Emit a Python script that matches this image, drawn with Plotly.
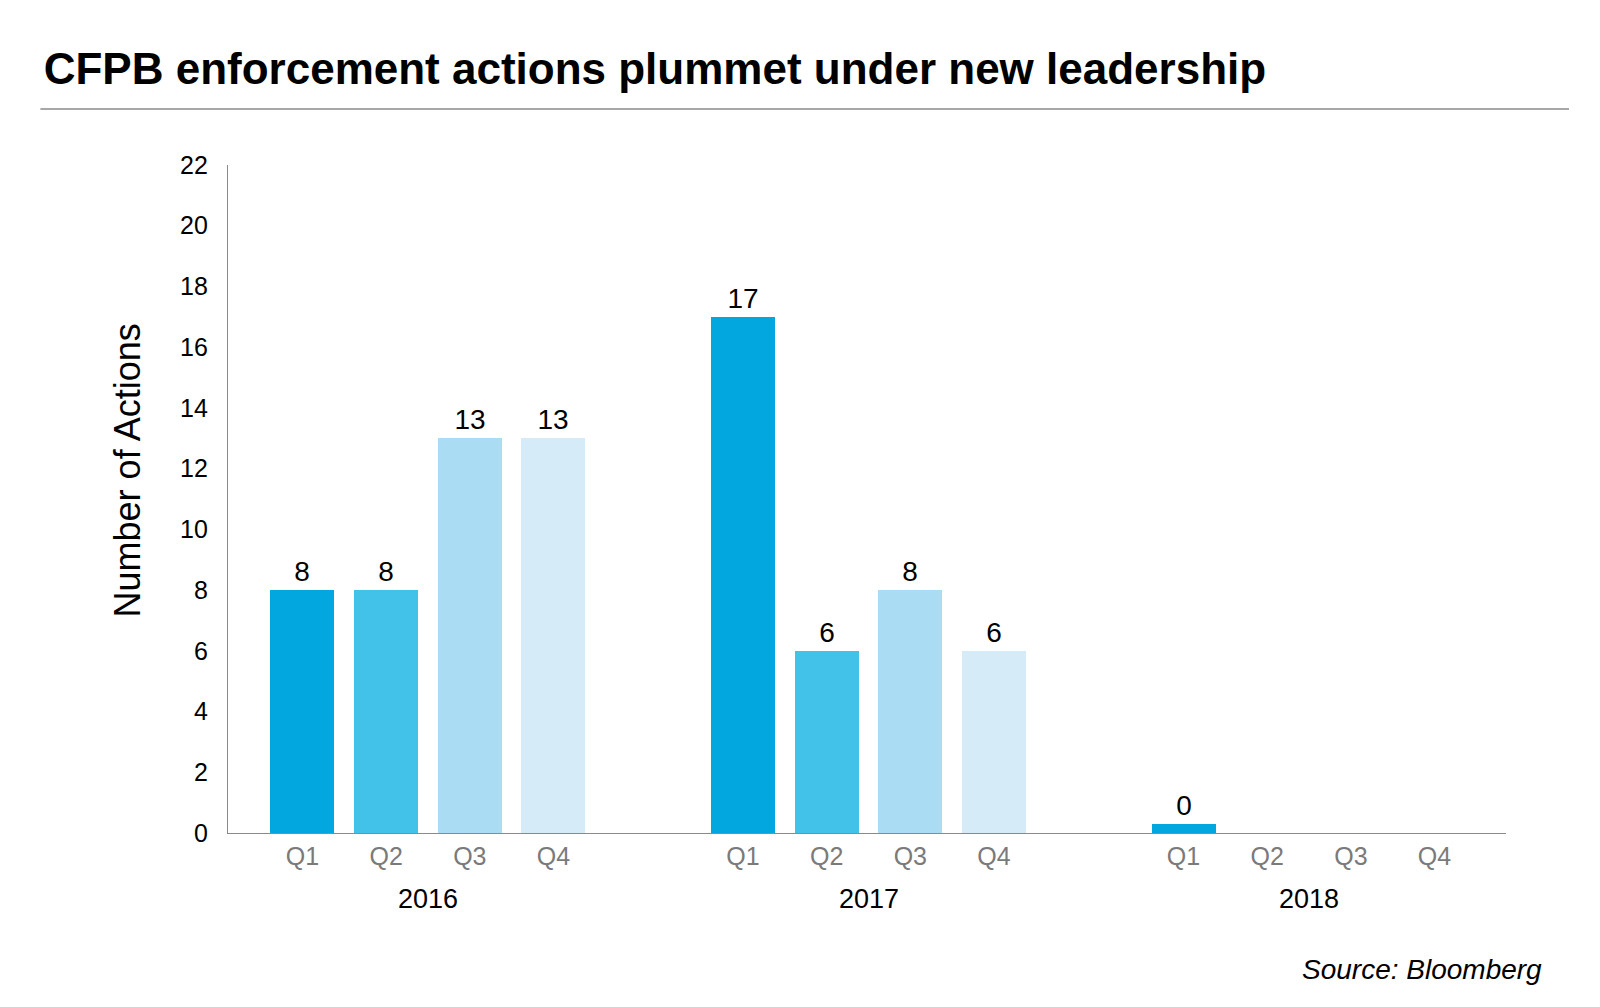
import plotly.graph_objects as go

years = ["2016", "2017", "2018"]
quarters = ["Q1", "Q2", "Q3", "Q4"]
actions = [
    [8, 8, 13, 13],
    [17, 6, 8, 6],
    [0, None, None, None],
]
quarter_colors = ["#02A7DF", "#43C2E9", "#AADDF3", "#D5ECF8"]
y_ticks = list(range(0, 23, 2))

GROUP_STEP = 5.265   # spacing between year groups, in quarter units
ZERO_STUB = 0.3      # visual stub drawn for zero-valued bars

xs, ys, texts, colors, tickvals, ticktext = [], [], [], [], [], []
for g, yr in enumerate(years):
    for q, qn in enumerate(quarters):
        pos = g * GROUP_STEP + q
        tickvals.append(pos)
        ticktext.append(qn)
        v = actions[g][q]
        if v is None:
            continue
        xs.append(pos)
        ys.append(v if v > 0 else ZERO_STUB)
        texts.append(str(v))
        colors.append(quarter_colors[q])

FONT = "Liberation Sans, Arial, sans-serif"

fig = go.Figure()
fig.add_trace(go.Bar(
    x=xs, y=ys, text=texts, textposition="outside",
    marker=dict(color=colors, line=dict(width=0)),
    width=0.765,
    textfont=dict(family=FONT, size=28, color="#000"),
    cliponaxis=False, hoverinfo="skip",
))

annotations = []
for g, yr in enumerate(years):
    annotations.append(dict(
        x=g * GROUP_STEP + 1.5, xref="x", y=-0.0988, yref="paper",
        text=yr, showarrow=False, xanchor="center", yanchor="middle",
        font=dict(family=FONT, size=27, color="#000"),
    ))
annotations.append(dict(
    x=-0.0787, xref="paper", y=0.5434, yref="paper", text="Number of Actions",
    textangle=-90, showarrow=False, xanchor="center", yanchor="middle",
    font=dict(family=FONT, size=36, color="#000"),
))
annotations.append(dict(
    x=1.0300, xref="paper", y=-0.2036, yref="paper", text="<i>Source: Bloomberg</i>",
    showarrow=False, xanchor="right", yanchor="middle",
    font=dict(family=FONT, size=28, color="#000"),
))

fig.update_layout(
    width=1600, height=1007,
    margin=dict(l=220, r=102, t=157, b=182, pad=0),
    paper_bgcolor="white", plot_bgcolor="white",
    showlegend=False,
    title=dict(
        text="<b>CFPB enforcement actions plummet under new leadership</b>",
        x=35.7 / 1600, xref="container", xanchor="left",
        y=1 - 61 / 1007, yref="container", yanchor="middle",
        font=dict(family=FONT, size=44, color="#000"),
    ),
    xaxis=dict(
        range=[-0.89, 2 * GROUP_STEP + 3 + 0.854],
        tickvals=tickvals, ticktext=ticktext,
        showgrid=False, zeroline=False,
        showline=True, linecolor="#8a8a8a", linewidth=1.3,
        ticks="outside", ticklen=1, tickcolor="rgba(0,0,0,0)",
        tickfont=dict(family=FONT, size=25, color="#7a7a7a"),
    ),
    yaxis=dict(
        range=[0, 22], tickvals=y_ticks,
        showgrid=False, zeroline=False,
        showline=True, linecolor="#8a8a8a", linewidth=1.3,
        ticks="outside", ticklen=14, tickcolor="rgba(0,0,0,0)",
        tickfont=dict(family=FONT, size=25, color="#000"),
    ),
    annotations=annotations,
    shapes=[dict(
        type="line", xref="paper", yref="paper",
        x0=-0.1468, x1=1.0493, y0=1.0838, y1=1.0838,
        line=dict(color="#8a8a8a", width=1.5),
    )],
    bargap=0,
)

fig.write_html("out.html")
